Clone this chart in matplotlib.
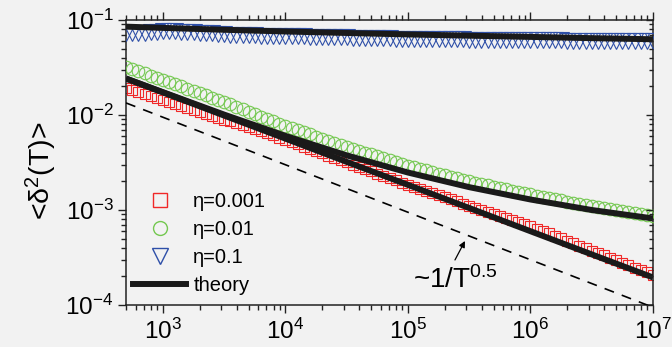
import numpy as np
import matplotlib
matplotlib.use("Agg")
import matplotlib.pyplot as plt
from matplotlib.lines import Line2D

plt.rcParams['font.family'] = ['Liberation Sans', 'DejaVu Sans']
plt.rcParams['mathtext.fontset'] = 'custom'
plt.rcParams['mathtext.rm'] = 'Liberation Sans'
plt.rcParams['mathtext.it'] = 'Liberation Sans'
plt.rcParams['mathtext.default'] = 'regular'
plt.rcParams['axes.unicode_minus'] = False

# ---- data ----
T_data = np.logspace(2.7, 7.0, 87)

red_eta0001 = [
    0.0192, 0.0183, 0.0174, 0.0166, 0.0158, 0.0150, 0.0144, 0.0137, 0.0130, 0.0124,
    0.0118, 0.0112, 0.0107, 0.0102, 0.00979, 0.00938, 0.00895, 0.00857, 0.00820, 0.00782,
    0.00746, 0.00713, 0.00679, 0.00644, 0.00611, 0.00578, 0.00548, 0.00519, 0.00491, 0.00465,
    0.00440, 0.00416, 0.00394, 0.00373, 0.00354, 0.00336, 0.00318, 0.00301, 0.00286, 0.00270,
    0.00256, 0.00242, 0.00229, 0.00217, 0.00206, 0.00194, 0.00185, 0.00176, 0.00167, 0.00159,
    0.00151, 0.00144, 0.00137, 0.00130, 0.00123, 0.00117, 0.00111, 0.00106, 0.00101, 0.000959,
    0.000914, 0.000869, 0.000826, 0.000785, 0.000748, 0.000710, 0.000676, 0.000638, 0.000600, 0.000566,
    0.000533, 0.000502, 0.000474, 0.000446, 0.000421, 0.000397, 0.000374, 0.000352, 0.000333, 0.000313,
    0.000296, 0.000279, 0.000262, 0.000248, 0.000233, 0.000220, 0.000207]

green_eta001 = [
    0.0319, 0.0303, 0.0288, 0.0274, 0.0260, 0.0247, 0.0234, 0.0222, 0.0211, 0.0200,
    0.0189, 0.0179, 0.0170, 0.0161, 0.0152, 0.0144, 0.0136, 0.0129, 0.0121, 0.0115,
    0.0108, 0.0102, 0.00964, 0.00910, 0.00859, 0.00812, 0.00767, 0.00729, 0.00692, 0.00657,
    0.00624, 0.00593, 0.00564, 0.00536, 0.00511, 0.00486, 0.00462, 0.00442, 0.00422, 0.00402,
    0.00384, 0.00367, 0.00351, 0.00336, 0.00321, 0.00308, 0.00294, 0.00283, 0.00272, 0.00262,
    0.00252, 0.00242, 0.00233, 0.00224, 0.00216, 0.00208, 0.00201, 0.00194, 0.00188, 0.00182,
    0.00176, 0.00170, 0.00165, 0.00160, 0.00155, 0.00150, 0.00146, 0.00141, 0.00137, 0.00133,
    0.00129, 0.00126, 0.00122, 0.00119, 0.00116, 0.00113, 0.00110, 0.00107, 0.00104, 0.00102,
    0.000993, 0.000970, 0.000948, 0.000926, 0.000904, 0.000884, 0.000865]

blue_eta01 = [
    0.0730, 0.0731, 0.0735, 0.0738, 0.0745, 0.0752, 0.0757, 0.0759, 0.0757, 0.0753,
    0.0748, 0.0741, 0.0735, 0.0728, 0.0721, 0.0714, 0.0708, 0.0703, 0.0698, 0.0695,
    0.0692, 0.0689, 0.0685, 0.0684, 0.0682, 0.0681, 0.0679, 0.0677, 0.0675, 0.0672,
    0.0670, 0.0668, 0.0665, 0.0663, 0.0661, 0.0658, 0.0656, 0.0654, 0.0652, 0.0649,
    0.0647, 0.0645, 0.0643, 0.0640, 0.0638, 0.0636, 0.0634, 0.0633, 0.0632, 0.0631,
    0.0630, 0.0629, 0.0627, 0.0626, 0.0625, 0.0624, 0.0623, 0.0622, 0.0620, 0.0619,
    0.0618, 0.0617, 0.0616, 0.0615, 0.0613, 0.0612, 0.0611, 0.0611, 0.0610, 0.0610,
    0.0609, 0.0609, 0.0608, 0.0608, 0.0607, 0.0607, 0.0606, 0.0606, 0.0605, 0.0605,
    0.0604, 0.0604, 0.0603, 0.0603, 0.0602, 0.0602, 0.0601]

T_theory = [500, 1000, 3162, 10000, 31623, 100000, 316228, 1000000, 3162278, 10000000]
theory_0001 = [0.0242, 0.0173, 0.00986, 0.00564, 0.00321, 0.00184, 0.00105, 0.000598, 0.000341, 0.000195]
theory_001 = [0.0242, 0.0174, 0.0101, 0.00603, 0.00376, 0.00248, 0.00174, 0.00129, 0.00100, 0.000815]
theory_01 = [0.0851, 0.0826, 0.0789, 0.0757, 0.0730, 0.0705, 0.0684, 0.0664, 0.0644, 0.0627]

guide_T = [500, 10000000]
guide_y = [0.0134, 0.0000946]

labels = ["η=0.001", "η=0.01", "η=0.1", "theory"]

c_red = '#f02828'
c_green = '#74c850'
c_blue = '#2e4fa8'
bg = '#f2f2f2'

fig = plt.figure(figsize=(6.72, 3.47), dpi=100, facecolor=bg)
ax = fig.add_axes([126/672, 1-305/347, 527/672, 285/347], facecolor=bg)

ms = 8
ax.plot(T_data, red_eta0001, ls='none', marker='s', ms=ms - 1, mfc='none', mec=c_red, mew=0.8, zorder=2)
ax.plot(T_data, green_eta001, ls='none', marker='o', ms=ms + 1, mfc='none', mec=c_green, mew=0.8, zorder=3)
ax.plot(T_data, blue_eta01, ls='none', marker='v', ms=ms + 3, mfc='none', mec=c_blue, mew=0.8, zorder=3)

for th in (theory_0001, theory_001, theory_01):
    ax.plot(T_theory, th, color='#1a1a1a', lw=4.3, solid_capstyle='butt', zorder=5)

ax.plot(guide_T, guide_y, color='black', lw=1.2, ls=(0, (6, 5)), zorder=4)

ax.set_xscale('log')
ax.set_yscale('log')
ax.set_xlim(500, 1e7)
ax.set_ylim(1e-4, 1e-1)

for sp in ax.spines.values():
    sp.set_linewidth(1.1)
    sp.set_color('#222222')

ax.tick_params(axis='both', which='both', labelsize=17.5, width=1.0, color='#222222')
ax.tick_params(axis='x', which='both', top=True, direction='out')
ax.tick_params(axis='y', which='both', right=False, direction='out')
ax.tick_params(which='major', length=6)
ax.tick_params(which='minor', length=3.5)
ax.tick_params(axis='x', pad=4)
ax.tick_params(axis='y', pad=3)

ax2 = ax.twinx()
ax2.set_yscale('log')
ax2.set_ylim(1e-4, 1e-1)
ax2.tick_params(axis='y', which='both', direction='in', labelright=False, width=1.0, color='#222222')
ax2.tick_params(which='major', length=5)
ax2.tick_params(which='minor', length=3)
for sp in ax2.spines.values():
    sp.set_visible(False)

ax.set_ylabel("<δ$^2$(T)>", fontsize=20.5)
ax.yaxis.set_label_coords(-0.128, 0.47)

handles = [
    Line2D([], [], ls='none', marker='s', ms=10, mfc='none', mec=c_red, mew=1.0),
    Line2D([], [], ls='none', marker='o', ms=10, mfc='none', mec=c_green, mew=1.0),
    Line2D([], [], ls='none', marker='v', ms=11, mfc='none', mec=c_blue, mew=1.0),
    Line2D([], [], color='#1a1a1a', lw=4.3),
]
leg = ax.legend(handles, labels, loc='lower left', bbox_to_anchor=(0.013, 0.035),
                frameon=False, fontsize=14.5, handlelength=2.65, handletextpad=0.35,
                labelspacing=0.44, borderpad=0, borderaxespad=0)

ax.annotate("", xy=(2.92e5, 4.72e-4), xytext=(2.42e5, 2.98e-4),
            arrowprops=dict(arrowstyle='-|>', lw=0.9, color='black', mutation_scale=9,
                            shrinkA=0, shrinkB=0), zorder=6)
ax.text(1.1e5, 1.51e-4, "~1/T$^{0.5}$", fontsize=20, va='baseline', ha='left', zorder=6)

fig.savefig("out.png", dpi=100, facecolor=bg)
